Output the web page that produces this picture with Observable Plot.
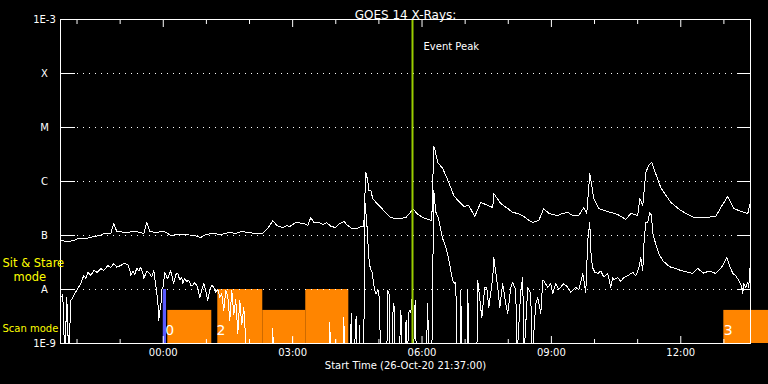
<!DOCTYPE html>
<html>
<head>
<meta charset="utf-8">
<script src="https://cdn.jsdelivr.net/npm/d3@7"></script>
<script src="https://cdn.jsdelivr.net/npm/@observablehq/plot@0.6"></script>
<style>
  html, body { margin: 0; padding: 0; background: #000; }
</style>
</head>
<body>
<div id="chart"></div>
<script>
// ---- data (time in hours relative to 27-Oct-20 00:00, flux in W/m^2) ----
const titleText = "GOES 14 X-Rays:";
const xTitle = "Start Time (26-Oct-20 21:37:00)";
const xDomain = [-2.3833, 13.6167];
const majorTicks = [0, 3, 6, 9, 12];
const minorTicks = [-2, -1, 1, 2, 4, 5, 7, 8, 10, 11, 13];
const yTickValues = [1e-9, 1e-8, 1e-7, 1e-6, 1e-5, 1e-4, 1e-3];
const yTickLabels = ["1E-9", "A", "B", "C", "M", "X", "1E-3"];
const gridLevels = [1e-8, 1e-7, 1e-6, 1e-5, 1e-4];
const peakTime = 5.779;
const peakLabel = "Event Peak";

const modeStart = [0.104, 1.264, 2.307, 3.304, 12.998];
const modeEnd = [1.125, 2.307, 3.304, 4.302, 14.04];
const modeTop = [4.1e-9, 1e-8, 4.1e-9, 1e-8, 4.1e-9];
const blueBar = [0.0, 0.075];
const segLabels = ["0", "2", "3"];
const segLabelTime = [0.15, 1.34, 13.1];

const longChannel = [
[-2.377,8.1e-8],[-2.214,7.7e-8],[-2.075,8.1e-8],[-1.983,8.8e-8],[-1.80,8.8e-8],[-1.612,9.6e-8],
[-1.449,1.0e-7],[-1.380,1.09e-7],[-1.217,1.09e-7],[-1.148,1.67e-7],[-1.079,1.19e-7],[-0.870,1.14e-7],
[-0.638,1.19e-7],[-0.452,1.09e-7],[-0.383,1.74e-7],[-0.313,1.19e-7],[-0.174,1.14e-7],[0.012,1.19e-7],
[0.104,1.09e-7],[0.174,1.0e-7],[0.336,1.04e-7],[0.522,1.04e-7],[0.707,1.0e-7],[0.870,9.2e-8],
[0.986,1.04e-7],[1.148,1.09e-7],[1.333,1.04e-7],[1.519,1.14e-7],[1.681,1.09e-7],[1.820,1.19e-7],
[1.959,1.14e-7],[2.145,1.09e-7],[2.307,1.09e-7],[2.377,1.24e-7],[2.470,1.53e-7],[2.539,1.9e-7],
[2.632,1.53e-7],[2.771,1.41e-7],[2.864,1.53e-7],[2.933,1.47e-7],[3.072,1.74e-7],[3.258,1.67e-7],
[3.351,1.53e-7],[3.420,2.15e-7],[3.490,1.74e-7],[3.606,1.74e-7],[3.699,1.6e-7],[3.791,1.74e-7],
[3.884,1.47e-7],[4.000,1.41e-7],[4.093,1.67e-7],[4.186,1.82e-7],[4.278,1.53e-7],[4.371,1.35e-7],
[4.487,1.35e-7],[4.580,1.47e-7],[4.649,1.47e-7],[4.696,1.47e-6],[4.742,1.04e-6],[4.765,6.8e-7],
[4.812,6.8e-7],[4.858,4.8e-7],[4.997,3.6e-7],[5.159,2.67e-7],[5.275,2.15e-7],[5.391,2.07e-7],
[5.507,2.07e-7],[5.623,2.15e-7],[5.716,2.56e-7],[5.786,3.16e-7],[5.878,2.56e-7],[6.017,2.15e-7],
[6.156,1.98e-7],[6.226,1.9e-7],[6.272,4.45e-6],[6.30,3.8e-6],[6.365,2.25e-6],[6.481,1.74e-6],
[6.620,9.6e-7],[6.736,5.5e-7],[6.829,4.45e-7],[6.968,3.45e-7],[7.084,3.6e-7],[7.223,2.25e-7],
[7.362,4.1e-7],[7.525,3.6e-7],[7.641,3.3e-7],[7.664,6.0e-7],[7.826,3.9e-7],[7.988,3.16e-7],
[8.104,2.67e-7],[8.220,2.56e-7],[8.359,2.25e-7],[8.452,1.98e-7],[8.568,1.74e-7],[8.707,1.9e-7],
[8.823,3.16e-7],[8.939,2.56e-7],[9.032,2.45e-7],[9.148,2.35e-7],[9.264,2.56e-7],[9.380,2.67e-7],
[9.496,2.35e-7],[9.635,2.35e-7],[9.751,3.3e-7],[9.820,2.56e-7],[9.890,1.41e-6],[9.983,4.84e-7],
[10.099,3.16e-7],[10.307,2.78e-7],[10.539,2.45e-7],[10.725,1.98e-7],[10.841,2.56e-7],[11.003,2.35e-7],
[11.049,4.84e-7],[11.119,3.6e-7],[11.188,1.47e-6],[11.26,2.0e-6],[11.328,2.25e-6],[11.374,1.74e-6],
[11.536,7.7e-7],[11.768,4.1e-7],[12.000,2.9e-7],[12.301,2.15e-7],[12.533,2.15e-7],[12.812,2.25e-7],
[12.928,3.3e-7],[13.090,5.3e-7],[13.229,3.16e-7],[13.461,2.67e-7],[13.554,2.56e-7],[13.623,4.45e-7]
];

const shortChannel = [
[-2.377,7.1e-9],[-2.330,8.0e-9],[-2.284,5e-10],[-2.237,7.1e-9],[-2.191,5e-10],[-2.145,6.2e-9],
[-2.098,7.1e-9],[-2.052,8.4e-9],[-1.983,1.04e-8],[-1.913,1.29e-8],[-1.843,1.82e-8],[-1.797,1.6e-8],
[-1.751,2.07e-8],[-1.681,1.82e-8],[-1.612,2.25e-8],[-1.530,2.07e-8],[-1.449,2.45e-8],[-1.380,2.25e-8],
[-1.287,2.78e-8],[-1.218,2.56e-8],[-1.148,3.03e-8],[-1.079,2.6e-8],[-0.986,2.78e-8],[-0.916,3.03e-8],
[-0.823,2.9e-8],[-0.777,2.3e-8],[-0.754,1.82e-8],[-0.707,2.2e-8],[-0.660,1.9e-8],[-0.614,2.5e-8],
[-0.568,2.2e-8],[-0.522,2.6e-8],[-0.475,2.0e-8],[-0.452,1.6e-8],[-0.383,2.2e-8],[-0.336,2.07e-8],
[-0.266,1.7e-8],[-0.220,2.25e-8],[-0.174,1.2e-8],[-0.128,6.25e-9],[-0.104,2.67e-9],[-0.081,4e-9],
[-0.058,4.6e-9],[-0.035,1.0e-8],[-0.012,1.04e-8],[0.035,2.07e-8],[0.081,1.7e-8],[0.104,1.6e-8],
[0.174,2.25e-8],[0.220,1.5e-8],[0.243,1.29e-8],[0.290,1.9e-8],[0.336,2.0e-8],[0.382,1.5e-8],
[0.428,1.7e-8],[0.452,1.29e-8],[0.498,1.6e-8],[0.545,1.4e-8],[0.591,1.5e-8],[0.637,1.2e-8],
[0.684,1.19e-8],[0.730,1.35e-8],[0.800,1.09e-8],[0.847,7.1e-9],[0.893,1.0e-8],[0.939,1.29e-8],
[0.986,9.5e-9],[1.032,6.25e-9],[1.078,9.6e-9],[1.125,1.19e-8],[1.171,1.1e-8],[1.217,8.8e-9],
[1.264,1.0e-8],[1.310,7.1e-9],[1.356,8.4e-9],[1.403,4.09e-9],[1.450,9.6e-9],[1.496,7.5e-9],
[1.542,2.67e-9],[1.589,9.6e-9],[1.635,3.5e-9],[1.681,6.5e-9],[1.728,1.53e-9],[1.774,6.25e-9],
[1.820,2.2e-9],[1.867,4.6e-9],[1.913,1.14e-9],[1.959,5e-10],
[2.51,5e-10],[2.539,1.9e-9],[2.56,5e-10],[2.98,5e-10],[3.003,1.29e-9],[3.02,5e-10],
[3.84,5e-10],[3.861,2.45e-9],[3.88,5e-10],[3.98,5e-10],[4.0,1.2e-9],[4.02,5e-10],
[4.165,5e-10],[4.186,3.03e-9],[4.21,5e-10],[4.33,5e-10],[4.36,3.6e-9],[4.38,5e-10],
[4.43,5e-10],[4.46,2.6e-9],[4.48,3.2e-9],[4.50,5e-10],[4.53,5e-10],[4.55,2.2e-9],[4.57,5e-10],
[4.649,5e-10],[4.672,4.45e-7],[4.720,1.67e-7],[4.765,4.0e-8],[4.800,2.45e-8],[4.840,2.1e-8],
[4.900,9.6e-9],[4.935,8.4e-9],[4.980,9.6e-9],[5.010,7.2e-9],[5.040,5e-10],
[5.18,5e-10],[5.21,9.6e-9],[5.24,8e-9],[5.26,5e-10],[5.31,5e-10],[5.33,5.5e-9],[5.36,4.6e-9],
[5.38,5e-10],[5.47,5e-10],[5.51,4.1e-9],[5.54,5e-10],[5.60,5e-10],[5.63,2.7e-9],[5.66,5e-10],
[5.70,4.1e-9],[5.74,3.8e-9],[5.77,7.1e-9],[5.80,5e-10],[5.84,6.25e-9],[5.87,5e-10],
[6.10,5e-10],[6.13,5.5e-9],[6.16,5e-10],[6.226,5e-10],[6.272,6.8e-7],[6.32,2.7e-7],[6.38,2.1e-7],
[6.47,9.2e-8],[6.55,6.1e-8],[6.61,3.9e-8],[6.667,2.25e-8],[6.71,1.47e-8],[6.76,1.29e-8],
[6.783,1.35e-8],[6.81,5e-10],[6.88,5e-10],[6.899,9.6e-9],[6.92,5e-10],[7.04,5e-10],[7.061,9.6e-9],
[7.09,5e-10],[7.27,5e-10],[7.293,1.47e-8],[7.386,3.0e-9],[7.455,1.09e-8],[7.502,1.09e-8],
[7.548,4.6e-9],[7.641,1.67e-8],[7.664,3.9e-8],[7.757,1.09e-8],[7.803,4.6e-9],[7.870,1.29e-8],
[7.942,5.5e-9],[7.988,3.6e-9],[8.058,1.09e-8],[8.104,1.35e-8],[8.174,9.6e-9],[8.200,5e-10],
[8.290,9.6e-9],[8.336,1.67e-8],[8.36,5e-10],[8.452,1.09e-8],[8.522,8.4e-9],[8.55,5e-10],
[8.638,5.5e-9],[8.684,7.1e-9],[8.754,3.6e-9],[8.800,1.47e-8],[8.823,1.47e-8],[8.916,1.09e-8],
[8.986,1.29e-8],[9.032,8.4e-9],[9.101,1.29e-8],[9.171,1.0e-8],[9.287,1.29e-8],[9.380,1.09e-8],
[9.449,8.8e-9],[9.565,1.09e-8],[9.635,1.0e-8],[9.728,1.98e-8],[9.797,8.8e-9],[9.843,8.0e-8],
[9.890,1.74e-7],[9.913,5.2e-8],[9.95,2.6e-8],[10.005,2.1e-8],[10.075,1.98e-8],[10.145,2.2e-8],
[10.215,1.7e-8],[10.307,1.98e-8],[10.377,1.1e-8],[10.42,1.67e-8],[10.446,1.5e-8],[10.539,1.67e-8],
[10.609,1.4e-8],[10.678,1.67e-8],[10.771,1.8e-8],[10.841,1.98e-8],[10.887,2.07e-8],[10.957,1.8e-8],
[11.026,2.45e-8],[11.072,3.9e-8],[11.119,2.2e-8],[11.142,6.5e-8],[11.188,1.74e-7],[11.235,1.74e-7],
[11.281,2.7e-7],[11.32,2.35e-7],[11.35,1.15e-7],[11.374,9.2e-8],[11.42,7.0e-8],[11.49,4.6e-8],
[11.58,3.45e-8],[11.70,2.8e-8],[11.768,2.6e-8],[11.884,2.45e-8],[12.0,2.25e-8],[12.162,2.1e-8],
[12.278,1.98e-8],[12.394,2.45e-8],[12.533,2.0e-8],[12.649,2.2e-8],[12.812,1.98e-8],[12.928,2.45e-8],
[12.997,3.0e-8],[13.067,4.0e-8],[13.113,3.0e-8],[13.206,1.98e-8],[13.275,1.8e-8],[13.345,1.47e-8],
[13.414,1.12e-8],[13.438,8.4e-9],[13.461,1.29e-8],[13.507,1.09e-8],[13.554,1.35e-8],[13.577,1.09e-8],
[13.600,2.45e-8],[13.62,2.6e-8]
];

// ---- derived tables ----
const modes = modeStart.map((s, i) => ({start: s, end: modeEnd[i], top: modeTop[i]}));
const fmtHour = d => String(((d % 24) + 24) % 24).padStart(2, "0") + ":00";
const white = "#ffffff";
const yellow = "#ffff00";
const orange = "#ff8500";

const chart = Plot.plot({
  width: 768,
  height: 384,
  marginLeft: 60,
  marginRight: 18,
  marginTop: 19,
  marginBottom: 41,
  style: {background: "#000", color: white, fontFamily: "DejaVu Sans, sans-serif", fontSize: "10px", overflow: "visible"},
  x: {domain: xDomain, axis: null},
  y: {type: "log", domain: [1e-9, 1e-3], axis: null},
  marks: [
    // mode bars
    Plot.rect(modes, {x1: "start", x2: "end", y1: 1e-9, y2: "top", fill: orange}),
    Plot.rect([blueBar], {x1: d => d[0], x2: d => d[1], y1: 1e-9, y2: 1e-8, fill: "#5a5aff"}),
    // dotted grid
    Plot.ruleY(gridLevels, {stroke: white, strokeDasharray: "1,5", strokeDashoffset: -5}),
    // y ticks inside (left & right)
    Plot.axisY({ticks: yTickValues, anchor: "left", tickSize: 15, dx: 15, tickFormat: () => "", label: null, stroke: white}),
    Plot.axisY({ticks: yTickValues, anchor: "right", tickSize: 13, dx: -13, tickFormat: () => "", label: null, stroke: white}),
    // x ticks inside (top & bottom)
    Plot.axisX({ticks: majorTicks, anchor: "bottom", tickSize: 7, dy: -7, tickFormat: () => "", label: null, stroke: white}),
    Plot.axisX({ticks: minorTicks, anchor: "bottom", tickSize: 4, dy: -4, tickFormat: () => "", label: null, stroke: white}),
    Plot.axisX({ticks: majorTicks, anchor: "top", tickSize: 7, dy: 7, tickFormat: () => "", label: null, stroke: white}),
    Plot.axisX({ticks: minorTicks, anchor: "top", tickSize: 4, dy: 4, tickFormat: () => "", label: null, stroke: white}),
    // curves
    Plot.line(longChannel, {x: d => d[0], y: d => d[1], stroke: white, strokeWidth: 1, clip: true, shapeRendering: "crispEdges"}),
    Plot.line(shortChannel, {x: d => d[0], y: d => d[1], stroke: white, strokeWidth: 1, clip: true, shapeRendering: "crispEdges"}),
    // event peak
    Plot.ruleX([peakTime], {stroke: "#99cc00", strokeWidth: 2}),
    Plot.text([peakLabel], {x: peakTime, frameAnchor: "top", dy: 23, dx: 11, textAnchor: "start", text: d => d, fill: white, fontSize: 10}),
    // segment numbers
    Plot.text(segLabels, {x: (d, i) => segLabelTime[i], frameAnchor: "bottom", dy: -9, text: d => d, fill: white, fontSize: 14}),
    // frame
    Plot.frame({stroke: white}),
    // tick labels
    Plot.text(yTickValues, {y: d => d, text: (d, i) => yTickLabels[i], frameAnchor: "left", dx: -16, textAnchor: "middle", fill: white, fontSize: 10}),
    Plot.text(majorTicks, {x: d => d, text: fmtHour, frameAnchor: "bottom", dy: 12, fill: white, fontSize: 10}),
    // titles
    Plot.text([titleText], {frameAnchor: "top", dy: -9, text: d => d, fill: white, fontSize: 12}),
    Plot.text([xTitle], {frameAnchor: "bottom", dy: 25, text: d => d, fill: white, fontSize: 10}),
    // mode labels
    Plot.text(["Sit & Stare"], {frameAnchor: "top-left", dx: -58, dy: 239, textAnchor: "start", text: d => d, fill: yellow, fontSize: 11.5}),
    Plot.text(["mode"], {frameAnchor: "top-left", dx: -47, dy: 253, textAnchor: "start", text: d => d, fill: yellow, fontSize: 11.5}),
    Plot.text(["Scan mode"], {frameAnchor: "top-left", dx: -58, dy: 305, textAnchor: "start", text: d => d, fill: yellow, fontSize: 10})
  ]
});
document.getElementById("chart").appendChild(chart);
</script>
</body>
</html>
